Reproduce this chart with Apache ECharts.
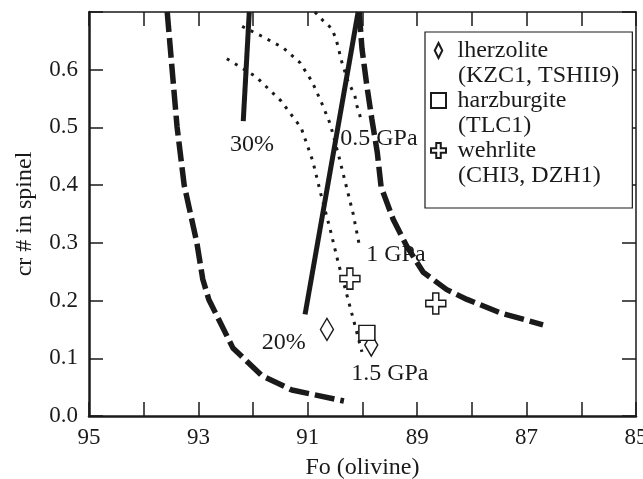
<!DOCTYPE html>
<html>
<head>
<meta charset="utf-8">
<script src="https://cdn.jsdelivr.net/npm/echarts@6/dist/echarts.min.js"></script>
<style>
  html, body { margin: 0; background: #fff; }
  #chart { width: 643px; height: 479px; }
</style>
</head>
<body>
<div id="chart"></div>
<script>
// ---- data (x = Fo olivine, y = cr# spinel) ----
const xLabelTicks = [95, 93, 91, 89, 87, 85];
const yLabelTicks = [0, 0.1, 0.2, 0.3, 0.4, 0.5, 0.6];

// thick dashed envelopes
const leftEnvelope = [[93.57, 0.70], [93.48, 0.600], [93.39, 0.501], [93.26, 0.400], [93.03, 0.301],
  [92.92, 0.237], [92.81, 0.202], [92.37, 0.118], [91.84, 0.070], [91.29, 0.045], [90.34, 0.026]];
const rightEnvelope = [[90.06, 0.70], [90.01, 0.637], [89.92, 0.572], [89.83, 0.515], [89.73, 0.457],
  [89.66, 0.397], [89.44, 0.341], [89.19, 0.294], [88.89, 0.249], [88.46, 0.219], [88.09, 0.202],
  [87.49, 0.179], [86.70, 0.158]];

// solid melting-degree lines
const melt30 = [[92.07, 0.70], [92.18, 0.511]];
const melt20 = [[90.08, 0.70], [91.05, 0.176]];

// dotted isobars
const isobar05 = [[90.87, 0.70], [90.72, 0.685], [90.56, 0.671], [90.48, 0.652], [90.43, 0.633],
  [90.38, 0.614], [90.27, 0.581], [90.14, 0.555], [90.10, 0.537], [90.03, 0.515]];
const isobar10 = [[92.20, 0.675], [91.82, 0.657], [91.45, 0.638], [91.14, 0.612], [90.92, 0.579],
  [90.74, 0.541], [90.59, 0.506], [90.43, 0.449], [90.32, 0.407], [90.17, 0.350], [90.05, 0.292]];
const isobar15 = [[92.48, 0.619], [91.95, 0.588], [91.49, 0.546], [91.12, 0.499], [90.91, 0.442],
  [90.76, 0.384], [90.59, 0.323], [90.45, 0.268], [90.23, 0.190], [90.01, 0.111]];

// samples
const lherzolite = [[90.65, 0.150], [89.84, 0.123]];
const harzburgite = [[89.92, 0.144]];
const wehrlite = [[90.23, 0.238], [88.66, 0.195]];

const legendNames = ["lherzolite", "harzburgite", "wehrlite"];
const legendSamples = ["(KZC1, TSHII9)", "(TLC1)", "(CHI3, DZH1)"];

// curve annotations
const noteText = ["30%", "20%", "0.5 GPa", "1 GPa", "1.5 GPa"];
const noteX = [92.02, 91.44, 89.70, 89.39, 89.50];
const noteY = [0.470, 0.127, 0.480, 0.280, 0.073];

// ---- styling ----
const FONT = '"Liberation Serif", "Times New Roman", serif';
const INK = "#1a1a1a";
const crossPath = "path://M7,0H13V7H20V13H13V20H7V13H0V7H7Z";
const diamondPath = "path://M5,0L10,10L5,20L0,10Z";
const squarePath = "path://M0,0H10V10H0Z";

const chart = echarts.init(document.getElementById("chart"));

const dashed = (data) => ({
  type: "line", data, symbol: "none", silent: true, z: 2,
  lineStyle: { color: INK, width: 5.5, type: [20, 6], cap: "butt" },
});
const solid = (data) => ({
  type: "line", data, symbol: "none", silent: true, z: 2,
  lineStyle: { color: INK, width: 5 },
});
const dotted = (data) => ({
  type: "line", data, symbol: "none", silent: true, z: 2,
  lineStyle: { color: INK, width: 3, type: [3, 6.5] },
});
const samples = (name, data, symbol, size) => ({
  type: "scatter", name, data, symbol, symbolSize: size, z: 5,
  itemStyle: { color: "#fff", borderColor: INK, borderWidth: 1.5, opacity: 1 },
});

const plainAxis = {
  axisLine: { onZero: false, lineStyle: { color: INK, width: 1.5 } },
  axisTick: { inside: true, length: 14, lineStyle: { color: INK, width: 1.5 } },
  axisLabel: { show: false },
  splitLine: { show: false },
};

const option = {
  animation: false,
  grid: { left: 89, right: 7, top: 12, bottom: 63, outerBoundsMode: "none", containLabel: false },
  xAxis: [
    {
      type: "value", min: 85, max: 95, interval: 1, inverse: true, position: "bottom",
      axisLine: { onZero: false, lineStyle: { color: INK, width: 2.5 } },
      axisTick: { inside: true, length: 14, lineStyle: { color: INK, width: 1.5 } },
      axisLabel: {
        margin: 10, color: INK, fontFamily: FONT, fontSize: 23,
        formatter: (v) => (xLabelTicks.includes(Math.round(v)) ? String(Math.round(v)) : ""),
      },
      splitLine: { show: false },
      name: "Fo (olivine)", nameLocation: "middle", nameGap: 40,
      nameTextStyle: { color: INK, fontFamily: FONT, fontSize: 24 },
    },
    { type: "value", min: 85, max: 95, interval: 1, inverse: true, position: "top", ...plainAxis },
  ],
  yAxis: [
    {
      type: "value", min: 0, max: 0.7, interval: 0.1, position: "left",
      axisLine: { onZero: false, lineStyle: { color: INK, width: 2.5 } },
      axisTick: { inside: true, length: 14, lineStyle: { color: INK, width: 1.5 } },
      axisLabel: {
        margin: 11, color: INK, fontFamily: FONT, fontSize: 23,
        formatter: (v) => {
          const hit = yLabelTicks.find((t) => Math.abs(t - v) < 1e-6);
          return hit === undefined ? "" : hit.toFixed(1);
        },
      },
      splitLine: { show: false },
      name: "cr # in spinel", nameLocation: "middle", nameGap: 52, nameRotate: 90,
      nameTextStyle: { color: INK, fontFamily: FONT, fontSize: 24 },
    },
    { type: "value", min: 0, max: 0.7, interval: 0.1, position: "right", ...plainAxis },
  ],
  legend: [
    {
      // sample names with symbols, framed box
      data: [
        { name: legendNames[0], icon: diamondPath },
        { name: legendNames[1], icon: squarePath },
        { name: legendNames[2], icon: crossPath },
      ],
      orient: "vertical", left: 425, top: 32, selectedMode: false,
      itemWidth: 18, itemHeight: 15, itemGap: 25,
      padding: [6, 66, 45, 5],
      borderColor: INK, borderWidth: 1.2, backgroundColor: "#fff",
      textStyle: { color: INK, fontFamily: FONT, fontSize: 24, lineHeight: 25, padding: [0, 0, 0, 5] },
    },
    {
      // second line: sample numbers
      data: legendNames, icon: "none",
      orient: "vertical", left: 425, top: 63, selectedMode: false,
      itemWidth: 18, itemHeight: 15, itemGap: 25,
      padding: [0, 0, 0, 5],
      formatter: (n) => legendSamples[legendNames.indexOf(n)],
      textStyle: { color: INK, fontFamily: FONT, fontSize: 24, lineHeight: 25, padding: [0, 0, 0, 5] },
    },
  ],
  series: [
    dashed(leftEnvelope),
    dashed(rightEnvelope),
    solid(melt30),
    solid(melt20),
    dotted(isobar05),
    dotted(isobar10),
    dotted(isobar15),
    samples(legendNames[0], lherzolite, "diamond", [13, 22]),
    samples(legendNames[1], harzburgite, "rect", [16, 15]),
    samples(legendNames[2], wehrlite, crossPath, [20, 21]),
    {
      type: "scatter", silent: true, z: 6,
      data: noteText.map((t, i) => ({ name: t, value: [noteX[i], noteY[i]] })),
      symbolSize: 1, itemStyle: { color: "rgba(0,0,0,0)", opacity: 1 },
      label: {
        show: true, position: "inside", formatter: "{b}", opacity: 1,
        color: INK, fontFamily: FONT, fontSize: 24, textBorderWidth: 0,
      },
    },
  ],
};

chart.setOption(option);
</script>
</body>
</html>
